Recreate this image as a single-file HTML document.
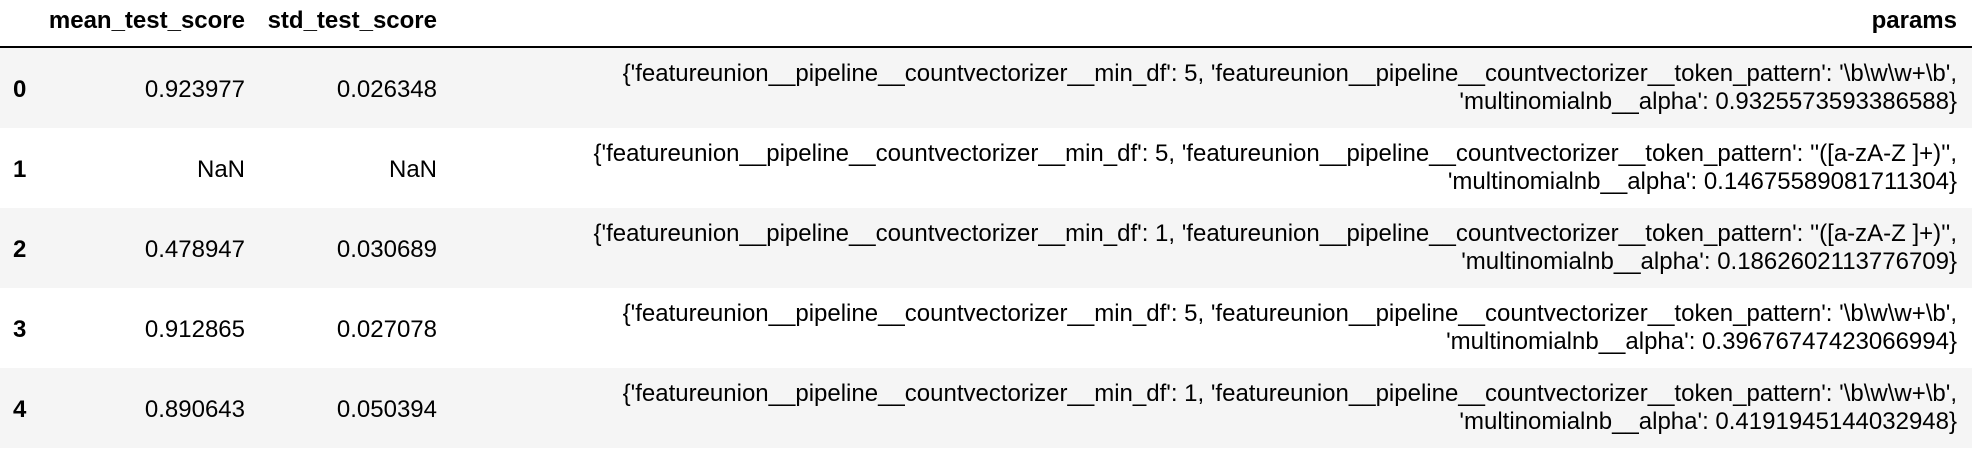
<!DOCTYPE html>
<html><head><style>
body{margin:0;width:1972px;height:450px;background:#fff;font-family:"Liberation Sans",Arial,sans-serif;font-size:24px;color:#000;position:relative;overflow:hidden}
.row{position:absolute;left:0;width:1972px;height:80px}
.g{background:#f5f5f5}
.c{position:absolute;white-space:nowrap}
.i{left:13px;font-weight:bold}
.m{right:1727px;text-align:right}
.s{right:1535px;text-align:right}
.p{right:15px;text-align:right;line-height:28px}
.h{font-weight:bold}
</style></head><body>
<div class="c h m" style="top:7px">mean_test_score</div>
<div class="c h s" style="top:7px">std_test_score</div>
<div class="c h p" style="top:7px;line-height:28px">params</div>
<div style="position:absolute;left:0;top:46px;width:1972px;height:2px;background:#000"></div>

<div class="row g" style="top:48px">
<div class="c i" style="top:28px">0</div>
<div class="c m" style="top:28px">0.923977</div>
<div class="c s" style="top:28px">0.026348</div>
<div class="c p" style="top:12px">{'featureunion__pipeline__countvectorizer__min_df': 5, 'featureunion__pipeline__countvectorizer__token_pattern': '\b\w\w+\b',<br>'multinomialnb__alpha': 0.9325573593386588}</div>
</div>
<div class="row" style="top:128px">
<div class="c i" style="top:28px">1</div>
<div class="c m" style="top:28px">NaN</div>
<div class="c s" style="top:28px">NaN</div>
<div class="c p" style="top:12px">{'featureunion__pipeline__countvectorizer__min_df': 5, 'featureunion__pipeline__countvectorizer__token_pattern': ''([a-zA-Z ]+)'',<br>'multinomialnb__alpha': 0.14675589081711304}</div>
</div>
<div class="row g" style="top:208px">
<div class="c i" style="top:28px">2</div>
<div class="c m" style="top:28px">0.478947</div>
<div class="c s" style="top:28px">0.030689</div>
<div class="c p" style="top:12px">{'featureunion__pipeline__countvectorizer__min_df': 1, 'featureunion__pipeline__countvectorizer__token_pattern': ''([a-zA-Z ]+)'',<br>'multinomialnb__alpha': 0.1862602113776709}</div>
</div>
<div class="row" style="top:288px">
<div class="c i" style="top:28px">3</div>
<div class="c m" style="top:28px">0.912865</div>
<div class="c s" style="top:28px">0.027078</div>
<div class="c p" style="top:12px">{'featureunion__pipeline__countvectorizer__min_df': 5, 'featureunion__pipeline__countvectorizer__token_pattern': '\b\w\w+\b',<br>'multinomialnb__alpha': 0.39676747423066994}</div>
</div>
<div class="row g" style="top:368px">
<div class="c i" style="top:28px">4</div>
<div class="c m" style="top:28px">0.890643</div>
<div class="c s" style="top:28px">0.050394</div>
<div class="c p" style="top:12px">{'featureunion__pipeline__countvectorizer__min_df': 1, 'featureunion__pipeline__countvectorizer__token_pattern': '\b\w\w+\b',<br>'multinomialnb__alpha': 0.4191945144032948}</div>
</div>
</body></html>
